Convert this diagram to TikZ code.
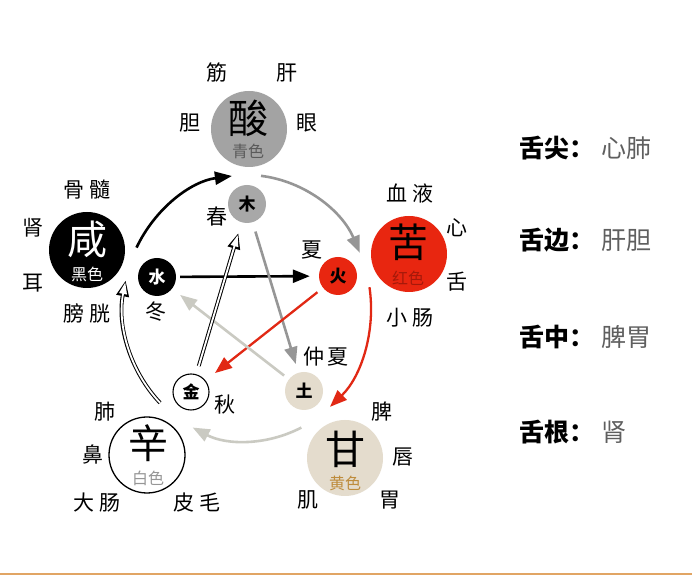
\documentclass[tikz,border=0pt]{standalone}
\usepackage{fontspec}
\setmainfont{Noto Sans CJK SC}
\usetikzlibrary{arrows.meta}
\definecolor{suangray}{RGB}{163,163,163}
\definecolor{mugray}{RGB}{168,168,168}
\definecolor{kured}{RGB}{232,38,16}
\definecolor{ganbeige}{RGB}{228,220,205}
\definecolor{arrgray}{RGB}{150,150,150}
\definecolor{arrlight}{RGB}{202,202,194}
\definecolor{arrred}{RGB}{225,40,20}
\definecolor{qingtxt}{RGB}{90,90,90}
\definecolor{hongtxt}{RGB}{165,25,10}
\definecolor{huangtxt}{RGB}{190,140,60}
\definecolor{baitxt}{RGB}{150,150,150}
\definecolor{righttxt}{RGB}{95,95,95}
\definecolor{bottomline}{RGB}{225,165,100}
\begin{document}
\begin{tikzpicture}[x=1pt,y=1pt,
  txt/.style={inner sep=0pt, font=\fontsize{21}{23}\selectfont},
  bigch/.style={inner sep=0pt, font=\fontsize{40}{42}\selectfont},
  colch/.style={inner sep=0pt, font=\fontsize{16}{17}\selectfont},
  smch/.style={inner sep=0pt, font=\fontsize{17}{18}\selectfont\bfseries},
  rtb/.style={inner sep=0pt, anchor=west, font=\fontsize{25}{27}\selectfont\bfseries},
  rtg/.style={inner sep=0pt, anchor=west, text=righttxt, font=\fontsize{25}{27}\selectfont},
  bigc/.style={circle, minimum size=76pt, inner sep=0pt},
  smc/.style={circle, minimum size=38pt, inner sep=0pt},
  arr/.style={line width=2.6pt, -{Triangle[length=17pt,width=13pt]}},
  dblout/.style={line width=3.8pt, black, -{Triangle[length=16pt,width=12pt]}},
  dblin/.style={line width=1.8pt, white, shorten >=2.2pt, -{Triangle[length=11.5pt,width=7.5pt]}}
]
\useasboundingbox (0,0) rectangle (692,577);
\fill[white] (0,0) rectangle (692,577);
\fill[bottomline] (0,1.5) rectangle (692,4);

% big circles
\node[bigc, fill=suangray] (suan) at (249,448) {};
\node[bigc, fill=black] (xian) at (87,327) {};
\node[bigc, fill=kured] (ku) at (409,323) {};
\node[bigc, fill=ganbeige] (gan) at (345,119) {};
\node[bigc, fill=white, draw=black, line width=1.3pt] (xin) at (147,122) {};

% small circles
\node[smc, fill=mugray] (mu) at (247,373) {};
\node[smc, fill=black] (shui) at (157,300) {};
\node[smc, fill=kured] (huo) at (338,301) {};
\node[smc, fill=ganbeige] (tu) at (304,186) {};
\node[smc, fill=white, draw=black, line width=1.1pt, minimum size=36pt] (jin) at (191,185) {};

% big circle texts
\node[bigch] (suanT) at (248,459) {酸};
\node[colch, text=qingtxt] (suanC) at (248,426) {青色};
\node[bigch, text=white] (xianT) at (87,338) {咸};
\node[colch, text=white] (xianC) at (87,303) {黑色};
\node[bigch] (kuT) at (408,335) {苦};
\node[colch, text=hongtxt] (kuC) at (408,299) {红色};
\node[bigch] (ganT) at (345,128) {甘};
\node[colch, text=huangtxt] (ganC) at (345,94) {黄色};
\node[bigch] (xinT) at (148,134) {辛};
\node[colch, text=baitxt] (xinC) at (148,99) {白色};

% small circle texts
\node[smch] (muT) at (mu) {木};
\node[smch, text=white] (shuiT) at (shui) {水};
\node[smch] (huoT) at (huo) {火};
\node[smch] (tuT) at (tu) {土};
\node[smch] (jinT) at (jin) {金};

% seasons
\node[txt] (chun) at (217,360) {春};
\node[txt] (dong) at (156,265) {冬};
\node[txt] (xia) at (312,327) {夏};
\node[txt] (zhongxia) at (326,220) {仲\hspace{4pt}夏};
\node[txt] (qiu) at (225,172) {秋};

% organ labels
\node[txt] (jin2) at (217,504) {筋};
\node[txt] (gan2) at (287,504) {肝};
\node[txt] (dan) at (190,454) {胆};
\node[txt] (yan) at (307,454) {眼};

\node[txt] (gusui) at (87,387) {骨\hspace{6pt}髓};
\node[txt] (shen) at (33,349) {肾};
\node[txt] (er) at (33,294) {耳};
\node[txt] (pangguang) at (87,264) {膀\hspace{6pt}胱};

\node[txt] (xueye) at (410,384) {血\hspace{6pt}液};
\node[txt] (xinz) at (457,349) {心};
\node[txt] (she) at (457,295) {舌};
\node[txt] (xiaochang) at (410,259) {小\hspace{6pt}肠};

\node[txt] (pi) at (382,165) {脾};
\node[txt] (chun2) at (403,120) {唇};
\node[txt] (wei) at (390,77) {胃};
\node[txt] (ji) at (308,77) {肌};

\node[txt] (fei) at (105,165) {肺};
\node[txt] (bi) at (93,122) {鼻};
\node[txt] (dachang) at (97,74) {大\hspace{6pt}肠};
\node[txt] (pimao) at (197,74) {皮\hspace{6pt}毛};

% right texts
\node[rtb] (r1a) at (519,429) {舌尖：};
\node[rtg] (r1b) at (601,429) {心肺};
\node[rtb] (r2a) at (519,337) {舌边：};
\node[rtg] (r2b) at (601,337) {肝胆};
\node[rtb] (r3a) at (519,240) {舌中：};
\node[rtg] (r3b) at (601,240) {脾胃};
\node[rtb] (r4a) at (519,145) {舌根：};
\node[rtg] (r4b) at (601,145) {肾};

% outer cycle arcs
\coordinate (E) at (247,269);
\draw[arr, black] ([shift={(153:124 and 133)}]E) arc[start angle=153, end angle=97, x radius=124, y radius=133];
\draw[arr, arrgray] ([shift={(83.5:124 and 133)}]E) arc[start angle=83.5, end angle=24.5, x radius=124, y radius=133];
\draw[arr, arrred, line width=2.3pt] ([shift={(9:124 and 133)}]E) arc[start angle=9, end angle=-48, x radius=124, y radius=133];
\draw[arr, arrlight] ([shift={(-64:124 and 133)}]E) arc[start angle=-64, end angle=-116, x radius=124, y radius=133];
\draw[dblout] ([shift={(-134.5:124 and 133)}]E) arc[start angle=-134.5, end angle=-192, x radius=124, y radius=133];
\draw[dblin] ([shift={(-134.5:124 and 133)}]E) arc[start angle=-134.5, end angle=-192, x radius=124, y radius=133];

% inner star
\draw[arr, black, shorten <=4pt, shorten >=9pt] (shui) -- (huo);
\draw[arr, arrgray, shorten <=9.6pt, shorten >=9pt] (mu) -- (tu);
\draw[arr, arrred, line width=2.3pt, shorten <=7pt, shorten >=12pt] (huo) -- (jin);
\draw[arr, arrlight, shorten <=6pt, shorten >=10pt] (tu) -- (shui);
\draw[dblout, shorten <=8.6pt, shorten >=11pt] (jin) -- (mu);
\draw[dblin, shorten <=8.6pt, shorten >=13.2pt] (jin) -- (mu);
\end{tikzpicture}
\end{document}
